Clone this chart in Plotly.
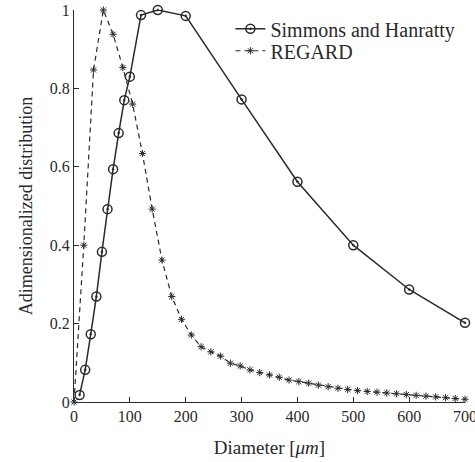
import plotly.graph_objects as go

# Simmons and Hanratty distribution
sh_diameter = [10, 20, 30, 40, 50, 60, 70, 80, 90, 100, 120, 150, 200, 300, 400, 500, 600, 700]
sh_value = [0.018, 0.082, 0.173, 0.269, 0.383, 0.492, 0.594, 0.686, 0.770, 0.830,
            0.987, 1.0, 0.985, 0.772, 0.562, 0.400, 0.287, 0.202]

# REGARD distribution
regard_diameter = [0, 17.5, 35, 52.5, 70, 87.5, 105, 122.5, 140, 157.5, 175, 192.5, 210,
                   227.5, 245, 262.5, 280, 297.5, 315, 332.5, 350, 367.5, 385, 402.5,
                   420, 437.5, 455, 472.5, 490, 507.5, 525, 542.5, 560, 577.5, 595,
                   612.5, 630, 647.5, 665, 682.5, 700]
regard_value = [0.0, 0.40, 0.847, 1.0, 0.938, 0.853, 0.760, 0.634, 0.492, 0.362, 0.269,
                0.211, 0.171, 0.141, 0.128, 0.117, 0.099, 0.092, 0.082, 0.075, 0.069,
                0.063, 0.056, 0.052, 0.048, 0.043, 0.039, 0.035, 0.032, 0.029, 0.027,
                0.025, 0.023, 0.021, 0.019, 0.017, 0.015, 0.013, 0.011, 0.009, 0.007]

x_ticks = [0, 100, 200, 300, 400, 500, 600, 700]
y_ticks = [0, 0.2, 0.4, 0.6, 0.8, 1]

serif = "Liberation Serif"
ink = "#2a2a2a"

fig = go.Figure()
fig.add_trace(go.Scatter(
    x=sh_diameter, y=sh_value, name="Simmons and Hanratty", legend="legend",
    mode="lines+markers", cliponaxis=False,
    line=dict(color=ink, width=1.5),
    marker=dict(symbol="circle-open-dot", size=9, color=ink, line=dict(width=1.5, color=ink)),
))
fig.add_trace(go.Scatter(
    x=regard_diameter, y=regard_value, name="REGARD", legend="legend2",
    mode="lines+markers", cliponaxis=False,
    line=dict(color=ink, width=1.2, dash="5px,4px"),
    marker=dict(symbol="asterisk-open", size=6, color=ink, line=dict(width=1, color=ink)),
))

legend_style = dict(xanchor="left", yanchor="middle", bgcolor="rgba(0,0,0,0)",
                    font=dict(size=20, family=serif, color=ink), itemwidth=30)

fig.update_layout(
    width=475, height=462,
    margin=dict(l=74, r=10, t=10, b=60, autoexpand=False),
    paper_bgcolor="white", plot_bgcolor="white",
    font=dict(family=serif, color=ink, size=16),
    showlegend=True,
    legend=dict(x=0.40, y=0.952, **legend_style),
    legend2=dict(x=0.40, y=0.896, **legend_style),
    xaxis=dict(
        range=[0, 700], tickvals=x_ticks, ticks="inside", ticklen=5, tickwidth=1,
        tickcolor=ink, showline=True, linecolor=ink, linewidth=1.2, showgrid=False,
        zeroline=False, tickfont=dict(size=16, family=serif), ticklabeloverflow="allow",
        automargin=False,
        title=dict(text="Diameter [<i>μm</i>]", font=dict(size=19, family=serif), standoff=16),
    ),
    yaxis=dict(
        range=[0, 1], tickvals=y_ticks, ticks="inside", ticklen=5, tickwidth=1,
        tickcolor=ink, showline=True, linecolor=ink, linewidth=1.2, showgrid=False,
        zeroline=False, tickfont=dict(size=16, family=serif), automargin=False,
        title=dict(text="Adimensionalized distribution", font=dict(size=18, family=serif), standoff=12),
    ),
)

fig.write_html("out.html")
